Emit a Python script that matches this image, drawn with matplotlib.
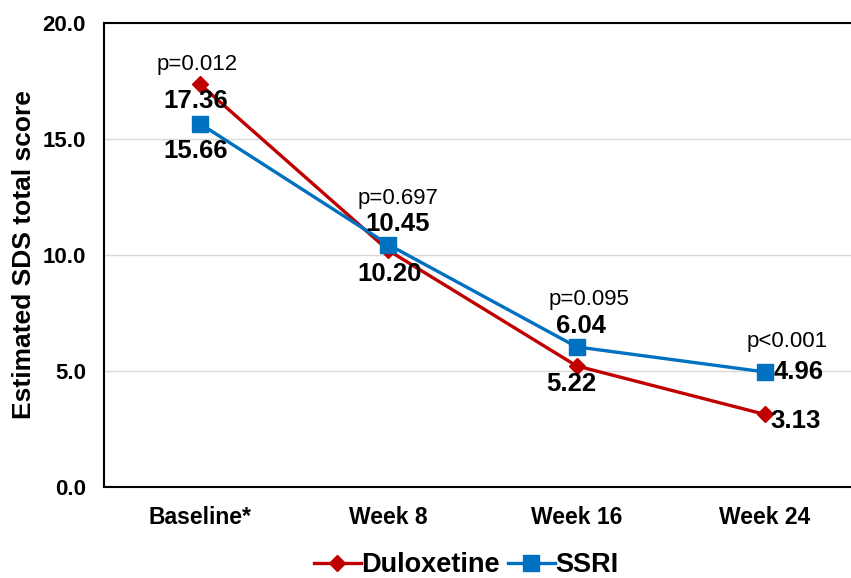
import matplotlib
matplotlib.use("Agg")
from matplotlib import pyplot as plt

# data
weeks = ['Baseline*', 'Week 8', 'Week 16', 'Week 24']
duloxetine = [17.36, 10.20, 5.22, 3.13]
ssri = [15.66, 10.45, 6.04, 4.96]
p_values = ['p=0.012', 'p=0.697', 'p=0.095', 'p<0.001']

plt.rcParams['font.family'] = ['Liberation Sans', 'DejaVu Sans']

RED = '#C00000'
BLUE = '#0070C0'

fig = plt.figure(figsize=(8.51, 5.78), dpi=100)
ax = fig.add_axes([104 / 851, 1 - 487 / 578, 755 / 851, 464 / 578])

x = list(range(len(weeks)))
ax.plot(x, duloxetine, color=RED, lw=2.4, marker='D', ms=8.5, label='Duloxetine', zorder=3)
ax.plot(x, ssri, color=BLUE, lw=2.4, marker='s', ms=11, label='SSRI', zorder=3)

ax.set_xlim(-0.51, 3.5)
ax.set_ylim(0, 20)
ax.set_yticks([0, 5, 10, 15, 20])
ax.set_yticklabels(['%.1f' % v for v in [0, 5, 10, 15, 20]], fontsize=16, fontweight='bold')
ax.set_xticks(x)
ax.set_xticklabels(weeks, fontsize=16.5, fontweight='bold')
ax.tick_params(axis='both', length=0)
ax.tick_params(axis='y', pad=13)
ax.tick_params(axis='x', pad=14)
ax.yaxis.grid(True, color='#D9D9D9', lw=1)
ax.set_axisbelow(True)
for s in ['left', 'bottom', 'top']:
    ax.spines[s].set_linewidth(1.5)
ax.spines['right'].set_visible(False)

ax.set_ylabel('Estimated SDS total score', fontsize=19, fontweight='bold', labelpad=5)

# value labels (offsets in points)
dul_off = [(-3, -12), (1, -17), (-4, -13), (22, -5)]
ssri_off = [(-3, -20), (7, 15), (3, 15), (24, 0)]
for i in x:
    ax.annotate('%.2f' % duloxetine[i], (i, duloxetine[i]), xytext=dul_off[i],
                textcoords='offset points', ha='center', va='center',
                fontsize=18.5, fontweight='bold')
    ax.annotate('%.2f' % ssri[i], (i, ssri[i]), xytext=ssri_off[i],
                textcoords='offset points', ha='center', va='center',
                fontsize=18.5, fontweight='bold')

p_off = [(-2, 14), (7, 33), (9, 34), (16, 22)]
for i in x:
    top = max(duloxetine[i], ssri[i])
    ax.annotate(p_values[i], (i, top), xytext=p_off[i], textcoords='offset points',
                ha='center', va='center', fontsize=16)

fig.legend(loc='center', bbox_to_anchor=(466 / 851, 1 - 565 / 578), ncol=2, frameon=False,
           prop={'size': 19.5, 'weight': 'bold'}, handlelength=1.75, handletextpad=0.0,
           columnspacing=0.3)

plt.savefig('out.png', dpi=100)
